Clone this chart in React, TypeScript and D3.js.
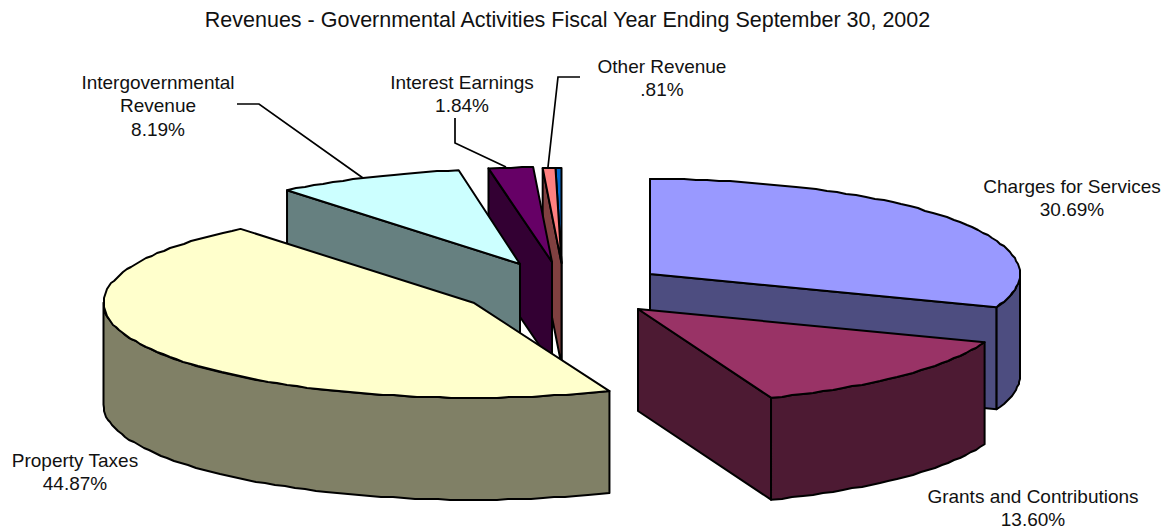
import React from "react";
import * as d3 from "d3";

const W = 1168;
const H = 529;

// Slices in drawing-order of the pie (clockwise from 12 o'clock)
const sliceNames = ["Charges for Services", "Grants and Contributions", "Property Taxes", "Intergovernmental Revenue", "Interest Earnings", "Other Revenue A", "Other Revenue B"];
const sliceValues = [30.69, 13.6, 44.87, 8.19, 1.84, 0.55, 0.26];
const topColors = ["#9999FF", "#993366", "#FFFFCC", "#CCFFFF", "#660066", "#FF8080", "#0066CC"];
const sideColors = ["#4D4D80", "#4D1A33", "#808066", "#668080", "#330033", "#804040", "#003366"];

// exploded apex of each slice (layout)
const apexX = [650, 638, 473.5, 520, 552, 561.5, 561.5];
const apexY = [274, 309, 302.7, 264, 262, 263, 263];
// small corrections (radians) for the projection of the original 3-D pie
const startTweak = [0, 0, -0.0175, 0, -0.006, 0, 0];
const endTweak = [0, -0.009, 0, 0, 0, 0, 0];
const paintOrder = [6, 5, 4, 3, 0, 1, 2];

const labelLines = [
  ["Charges for Services", "30.69%"],
  ["Grants and Contributions", "13.60%"],
  ["Property Taxes", "44.87%"],
  ["Intergovernmental", "Revenue", "8.19%"],
  ["Interest Earnings", "1.84%"],
  ["Other Revenue", ".81%"],
];
const labelCx = [1072, 1033, 75, 158, 462, 662];
const labelTop = [193, 503, 467, 89, 89, 73];

const leaders: [number, number][][] = [
  [[237, 104], [259, 104], [363, 178]],
  [[455, 118], [455, 143], [506, 167]],
  [[580, 77], [558, 77], [548, 167]],
];

const title = "Revenues - Governmental Activities Fiscal Year Ending September 30, 2002";
const RX = 370;
const RY = 95;
const DEPTH = 102;
const FONT = "'Liberation Sans', Arial, sans-serif";
const TITLE_FS = 21.5;
const FS = 19;

const arcs = d3.pie<number>().sort(null).startAngle(0).endAngle(2 * Math.PI)(sliceValues);
const line = d3.line<[number, number]>().curve(d3.curveLinear);

export default function App() {
  const rim = (i: number, a: number): [number, number] => [apexX[i] + RX * Math.sin(a), apexY[i] - RY * Math.cos(a)];
  const rimPts = (i: number, a0: number, a1: number, dy = 0): [number, number][] => {
    const n = Math.max(1, Math.ceil(Math.abs(a1 - a0) / (Math.PI / 100)));
    return d3.range(n + 1).map((k) => {
      const p = rim(i, a0 + ((a1 - a0) * k) / n);
      const edge = k === 0 || k === n;
      return [edge ? p[0] : Math.round(p[0]), (edge ? p[1] : Math.round(p[1])) + dy] as [number, number];
    });
  };

  const slices = paintOrder.map((i) => {
    const arc = arcs[i];
    const a0 = arc.startAngle + startTweak[i];
    const a1 = arc.endAngle + endTweak[i];
    const apex: [number, number] = [apexX[i], apexY[i]];
    const walls: [number, number][][] = [];
    // radial walls facing the viewer
    if (Math.cos(a0 - Math.PI / 2) < 0.02) {
      const p = rim(i, a0);
      walls.push([apex, p, [p[0], p[1] + DEPTH], [apex[0], apex[1] + DEPTH]]);
    }
    if (Math.cos(a1 + Math.PI / 2) < -0.02) {
      const p = rim(i, a1);
      walls.push([apex, p, [p[0], p[1] + DEPTH], [apex[0], apex[1] + DEPTH]]);
    }
    // outer curved wall
    const c0 = Math.max(a0, Math.PI / 2);
    const c1 = Math.min(a1, (3 * Math.PI) / 2);
    if (c1 > c0) {
      const topE = rimPts(i, c0, c1);
      const botE = rimPts(i, c1, c0, DEPTH);
      walls.push([...topE, ...botE]);
    }
    const top: [number, number][] = [apex, ...rimPts(i, a0, a1)];
    return (
      <g key={sliceNames[i]}>
        {walls.map((w, k) => (
          <path key={k} d={line(w) + "Z"} fill={sideColors[i]} stroke="#000" strokeWidth={2} strokeLinejoin="round" />
        ))}
        <path d={line(top) + "Z"} fill={topColors[i]} stroke="#000" strokeWidth={2} strokeLinejoin="round" />
      </g>
    );
  });

  return (
    <svg width={W} height={H} viewBox={`0 0 ${W} ${H}`} style={{ position: "absolute", left: 0, top: 0, background: "#fff" }} fontFamily={FONT}>
      <text x={567.5} y={27} textAnchor="middle" fontSize={TITLE_FS} fill="#111">{title}</text>
      {slices}
      {leaders.map((l, i) => (
        <path key={i} d={line(l) ?? ""} fill="none" stroke="#000" strokeWidth={1.7} />
      ))}
      {labelLines.map((lines, i) => (
        <text key={i} textAnchor="middle" fontSize={FS} fill="#111">
          {lines.map((t, k) => (
            <tspan key={k} x={labelCx[i]} y={labelTop[i] + k * 23.3}>{t}</tspan>
          ))}
        </text>
      ))}
    </svg>
  );
}
